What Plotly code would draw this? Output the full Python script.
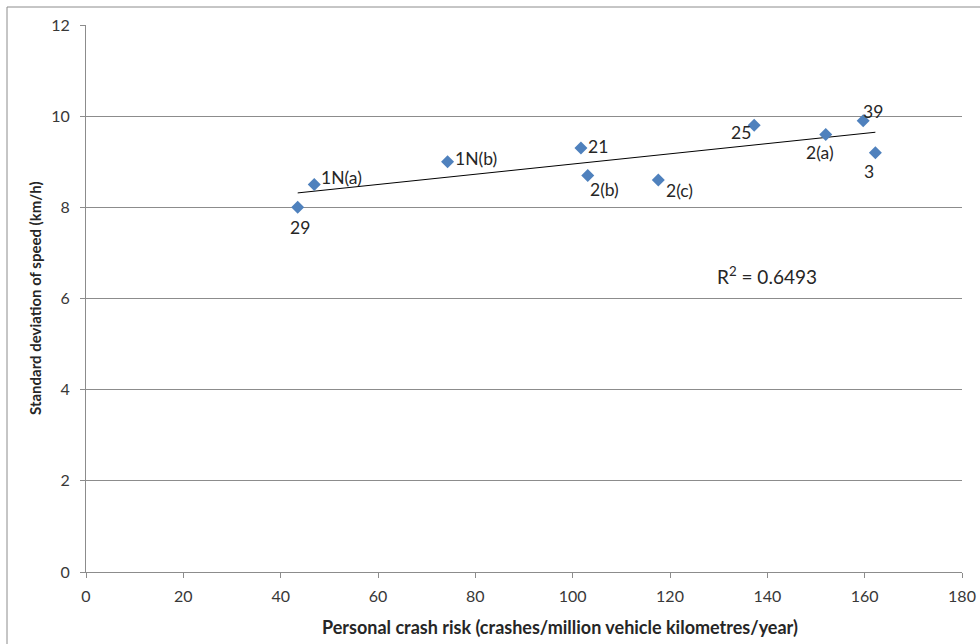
import numpy as np
import plotly.graph_objects as go

# Data
labels = ["29", "1N(a)", "1N(b)", "21", "2(b)", "2(c)", "25", "2(a)", "39", "3"]
crash_risk = [43.5, 46.9, 74.3, 101.7, 103.1, 117.6, 137.3, 152.0, 159.7, 162.2]
speed_sd = [8.0, 8.5, 9.0, 9.3, 8.7, 8.6, 9.8, 9.6, 9.9, 9.2]
label_shift_x = [2, 27, 28, 17, 17, 21, -13, -6, 10, -6]
label_shift_y = [-20, 7, 3, 2, -14, -11, -7, -18, 9, -19]
x_ticks = list(range(0, 181, 20))
y_ticks = list(range(0, 13, 2))

# Linear trendline (least squares) computed from the data
slope, intercept = np.polyfit(crash_risk, speed_sd, 1)
trend_x = np.array([min(crash_risk), max(crash_risk)])
trend_y = slope * trend_x + intercept

FONT = "Lato, 'Open Sans', sans-serif"
GRID = "#8c8c8c"
PL, PR, PT, PB = 86, 962, 25, 572
PW, PH = PR - PL, PB - PT


def px(xp):
    return (xp - PL) / PW


def py(yp):
    return (PB - yp) / PH


fig = go.Figure()
fig.add_trace(go.Scatter(x=trend_x, y=trend_y, mode="lines",
                         line=dict(color="#000000", width=1), hoverinfo="skip",
                         showlegend=False))
fig.add_trace(go.Scatter(x=crash_risk, y=speed_sd, mode="markers",
                         marker=dict(symbol="diamond", size=10, color="#4F81BD"),
                         showlegend=False))

for lab, xv, yv, dx, dy in zip(labels, crash_risk, speed_sd, label_shift_x, label_shift_y):
    fig.add_annotation(x=xv, y=yv, text=lab, showarrow=False, xshift=dx, yshift=dy,
                       xanchor="center", yanchor="middle",
                       font=dict(family=FONT, size=17.5, color="#262626"))

fig.add_annotation(xref="paper", yref="paper", x=px(767), y=py(275),
                   xanchor="center", yanchor="middle",
                   text="R<sup>2</sup> = 0.6493", showarrow=False,
                   font=dict(family=FONT, size=19, color="#262626"))

# Axis titles
fig.add_annotation(xref="paper", yref="paper", x=px(560), y=py(627),
                   xanchor="center", yanchor="middle",
                   text="<b>Personal crash risk (crashes/million vehicle kilometres/year)</b>",
                   showarrow=False, font=dict(family=FONT, size=18, color="#262626"))
fig.add_annotation(xref="paper", yref="paper", x=px(35), y=py(298),
                   xanchor="center", yanchor="middle",
                   text="<b>Standard deviation of speed (km/h)</b>", textangle=-90,
                   showarrow=False, font=dict(family=FONT, size=15, color="#262626"))

# Chart area border
fig.add_shape(type="rect", xref="paper", yref="paper",
              x0=px(7), x1=px(990), y0=py(660), y1=py(7),
              line=dict(color="#8c8c8c", width=1), fillcolor="rgba(0,0,0,0)", layer="below")

fig.update_xaxes(range=[0, 180], tickvals=x_ticks, showgrid=False, zeroline=False,
                 showline=True, linecolor=GRID, linewidth=1, automargin=False,
                 ticks="outside", ticklen=5, tickcolor=GRID, ticklabelstandoff=5,
                 tickfont=dict(family=FONT, size=16, color="#383838"))
fig.update_yaxes(range=[0, 12], tickvals=y_ticks, showgrid=True, gridcolor=GRID, gridwidth=1,
                 zeroline=False, showline=True, linecolor=GRID, linewidth=1, automargin=False,
                 ticks="outside", ticklen=5, tickcolor=GRID, ticklabelstandoff=7,
                 tickfont=dict(family=FONT, size=16, color="#383838"))

fig.update_layout(width=980, height=644,
                  margin=dict(l=PL, r=980 - PR, t=PT, b=644 - PB),
                  plot_bgcolor="white", paper_bgcolor="white")

fig.write_html("out.html", config={"displayModeBar": False},
               post_script="document.body.style.margin='0px';document.body.style.overflow='hidden';")
